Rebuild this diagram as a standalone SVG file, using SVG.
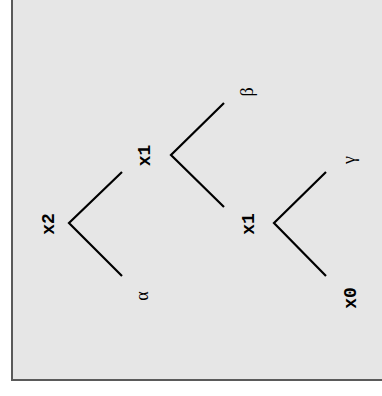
<svg xmlns="http://www.w3.org/2000/svg" width="382" height="396" viewBox="0 0 382 396">
<style>
.bg{fill:#e6e6e6;stroke:#5a5a5a;stroke-width:2}
.edge{stroke:#000;stroke-width:2.2;fill:none}
.var{font-family:"Liberation Mono",monospace;font-weight:bold;font-size:18px;fill:#000;text-anchor:middle}
.leaf{font-family:"Liberation Serif",serif;font-size:18px;fill:#000;text-anchor:middle}
</style>
<rect x="0" y="0" width="382" height="396" fill="#fff"/>
<rect class="bg" x="12" y="-10" width="380" height="390"/>
<g id="connectors">
<polyline class="edge" points="122,172 69,223 122,276"/>
<polyline class="edge" points="224,103 171,155 224,207"/>
<polyline class="edge" points="326,172 274,223 326,276"/>
</g>
<g id="n-x2"><text class="var" transform="translate(53.5,224) rotate(-90)">x2</text></g>
<g id="n-x1a"><text class="var" transform="translate(150,155.5) rotate(-90)">x1</text></g>
<g id="n-alpha"><text class="leaf" transform="translate(148,296) rotate(-90)">α</text></g>
<g id="n-beta"><text class="leaf" transform="translate(253,92) rotate(-90)">β</text></g>
<g id="n-x1b"><text class="var" transform="translate(254,224) rotate(-90)">x1</text></g>
<g id="n-gamma"><text class="leaf" transform="translate(355,160) rotate(-90)">γ</text></g>
<g id="n-x0"><text class="var" transform="translate(356,298) rotate(-90)">x0</text></g>
</svg>
